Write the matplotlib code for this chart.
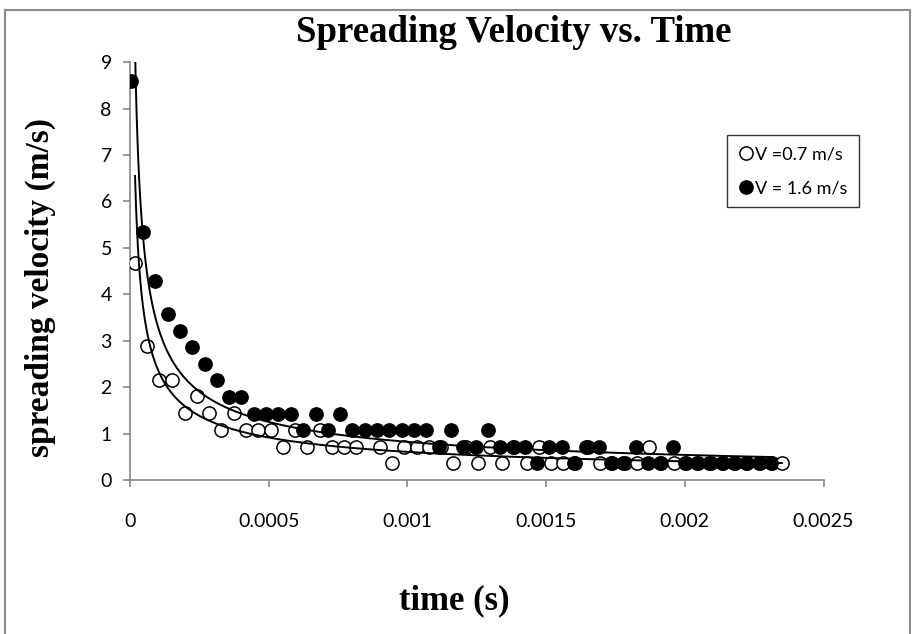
import numpy as np
import matplotlib.pyplot as plt
from matplotlib.patches import Rectangle

# V = 0.7 m/s (open circles)
t_slow = [0.0000184, 0.000062, 0.000106, 0.000150, 0.000197, 0.000241, 0.000286,
          0.000330, 0.000374, 0.000418, 0.000462, 0.000507, 0.000551, 0.000595,
          0.000639, 0.000684, 0.000728, 0.000772, 0.000814, 0.000903, 0.000945,
          0.000989, 0.001033, 0.001078, 0.001122, 0.001166, 0.001210, 0.001255,
          0.001299, 0.001341, 0.001385, 0.001430, 0.001474, 0.001518, 0.001562,
          0.001606, 0.001650, 0.001695, 0.001739, 0.001783, 0.001827, 0.001872,
          0.001916, 0.001960, 0.002004, 0.002049, 0.002093, 0.002137, 0.002182,
          0.002226, 0.002270, 0.002315, 0.002350]
v_slow = [4.68, 2.88, 2.16, 2.16, 1.44, 1.80, 1.44,
          1.08, 1.44, 1.08, 1.08, 1.08, 0.72, 1.08,
          0.72, 1.08, 0.72, 0.72, 0.72, 0.72, 0.36,
          0.72, 0.72, 0.72, 0.72, 0.36, 0.72, 0.36,
          0.72, 0.36, 0.72, 0.36, 0.72, 0.36, 0.36,
          0.36, 0.72, 0.36, 0.36, 0.36, 0.36, 0.72,
          0.36, 0.36, 0.36, 0.36, 0.36, 0.36, 0.36,
          0.36, 0.36, 0.36, 0.36]

# V = 1.6 m/s (filled circles)
t_fast = [0.000003, 0.000047, 0.000092, 0.000136, 0.000180, 0.000225, 0.000269,
          0.000314, 0.000358, 0.000402, 0.000447, 0.000491, 0.000535, 0.000580,
          0.000624, 0.000669, 0.000713, 0.000758, 0.000802, 0.000846, 0.000891,
          0.000935, 0.000979, 0.001024, 0.001068, 0.001113, 0.001157, 0.001201,
          0.001246, 0.001290, 0.001335, 0.001379, 0.001423, 0.001468, 0.001512,
          0.001556, 0.001600, 0.001645, 0.001689, 0.001734, 0.001778, 0.001823,
          0.001867, 0.001911, 0.001956, 0.002000, 0.002044, 0.002089, 0.002133,
          0.002178, 0.002222, 0.002267, 0.002311]
v_fast = [8.60, 5.35, 4.29, 3.57, 3.21, 2.86, 2.50,
          2.15, 1.79, 1.79, 1.43, 1.43, 1.43, 1.43,
          1.07, 1.43, 1.07, 1.43, 1.07, 1.07, 1.07,
          1.07, 1.07, 1.07, 1.07, 0.72, 1.07, 0.72,
          0.72, 1.07, 0.72, 0.72, 0.72, 0.36, 0.72,
          0.72, 0.36, 0.72, 0.72, 0.36, 0.36, 0.72,
          0.36, 0.36, 0.72, 0.36, 0.36, 0.36, 0.36,
          0.36, 0.36, 0.36, 0.36]

x_ticks = [0, 0.0005, 0.001, 0.0015, 0.002, 0.0025]
x_tick_labels = ["0", "0.0005", "0.001", "0.0015", "0.002", "0.0025"]
y_ticks = list(range(0, 10))


def power_fit(t, v):
    # excel-style power trendline: linear fit in log-log space
    t = np.asarray(t)
    v = np.asarray(v)
    b, ln_a = np.polyfit(np.log(t), np.log(v), 1)
    tt = np.geomspace(t.min(), t.max(), 500)
    return tt, np.exp(ln_a) * tt ** b


sans = ["Lato", "DejaVu Sans"]
serif = "Liberation Serif"

fig = plt.figure(figsize=(9.15, 6.34), dpi=100)
ax = fig.add_axes([0.142, 0.243, 0.758, 0.659])

ax.plot(t_slow, v_slow, "o", ms=9.5, mfc="white", mec="black", mew=1.1,
        label="V =0.7 m/s", zorder=3)
ax.plot(t_fast, v_fast, "o", ms=9.5, mfc="black", mec="black", mew=1.1,
        label="V = 1.6 m/s", zorder=4)

for t, v in [(t_slow, v_slow), (t_fast, v_fast)]:
    tt, vv = power_fit(t, v)
    ax.plot(tt, vv, color="black", lw=1.4, zorder=5)

ax.set_xlim(0, 0.0025)
ax.set_ylim(0, 9)
ax.set_xticks(x_ticks)
ax.set_xticklabels(x_tick_labels)
ax.set_yticks(y_ticks)

for s in ["top", "right"]:
    ax.spines[s].set_visible(False)
for s in ["left", "bottom"]:
    ax.spines[s].set_color("#868686")
    ax.spines[s].set_linewidth(1.2)
ax.tick_params(axis="both", colors="#868686", labelcolor="black",
               direction="out", length=5, width=1.2, labelsize=14)
ax.tick_params(axis="x", pad=19)
ax.tick_params(axis="y", pad=8)
for lab in ax.get_xticklabels() + ax.get_yticklabels():
    lab.set_family(sans)

fig.text(0.561, 0.949, "Spreading Velocity vs. Time", ha="center", va="center",
         family=serif, weight="bold", fontsize=26.5)
fig.text(0.497, 0.053, "time (s)", ha="center", va="center",
         family=serif, weight="bold", fontsize=25)
fig.text(0.044, 0.547, "spreading velocity (m/s)", ha="center", va="center",
         rotation=90, family=serif, weight="bold", fontsize=24)

leg = fig.legend(loc="upper left", bbox_to_anchor=(0.795, 0.787),
                 prop={"family": sans, "size": 13}, frameon=True,
                 handletextpad=0.05, handlelength=0.9, borderpad=0.6,
                 labelspacing=0.95, fancybox=False, markerscale=1.0,
                 borderaxespad=0, handleheight=0.9)
leg.get_frame().set_edgecolor("black")
leg.get_frame().set_linewidth(1.0)

# chart area border
fig.patches.append(Rectangle((0.006, -0.02), 0.988, 1.005, transform=fig.transFigure,
                             fill=False, edgecolor="#8c8c8c", lw=1.5))

fig.savefig("out.png", dpi=100)
